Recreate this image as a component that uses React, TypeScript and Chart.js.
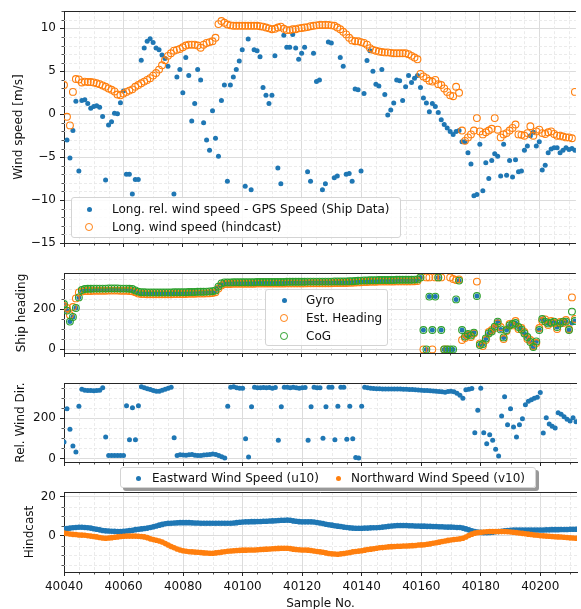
import React, { useEffect, useRef } from "react";
import { Chart, registerables } from "chart.js";

Chart.register(...registerables);

const FONT_FAMILY = "'DejaVu Sans', 'Liberation Sans', sans-serif";
const TEXT_COLOR = "#111111";
const AXIS_COLOR = "#262626";
const MAJOR_GRID = "#dcdcdc";
const MINOR_GRID = "#e6e6e6";
const BLUE = "#1f77b4";
const ORANGE = "#ff7f0e";
const GREEN = "#2ca02c";

const SAMPLE_START = 40040;
const X_MIN = 40040;
const X_MAX = 40212.33;
const X_TICKS = [40040, 40060, 40080, 40100, 40120, 40140, 40160, 40180, 40200];
const X_MINOR_STEP = 5;

// ---- Panel 1: longitudinal wind speed [m/s], samples 40040..40212 ----
const LONG_REL_WIND = [
  null, -3.0, -5.1, -1.9, 1.5, -6.6, 1.6, 1.7, 1.25, 0.7,
  0.9, 1.0, 0.8, -0.27, -7.65, -1.25, -0.87, 0.1, 0.05, 1.33,
  2.7, -7.0, -7.0, -9.3, -7.6, -7.6, 6.3, 7.7, 8.5, 8.8,
  8.35, 7.7, 7.5, 6.9, 6.5, 5.6, null, -9.3, 4.35, 5.2,
  2.5, 6.6, 4.5, -0.8, 1.25, 5.2, 4.0, -1.0, -3.0, -4.2,
  0.4, -2.8, -4.9, 1.6, 3.4, -7.8, 3.4, 4.35, 5.2, 6.2,
  7.5, -8.4, 8.75, -8.8, 7.5, 7.4, 6.7, 3.1, 2.2, 1.25,
  2.2, 6.8, -6.25, -8.1, 9.2, 7.8, 7.8, 9.3, 7.7, 6.4,
  7.1, 7.8, -6.7, -7.8, 7.1, 3.8, 4.0, -8.8, -8.1, 8.4,
  8.3, -7.4, -7.2, 6.6, 5.6, -7.0, -6.9, -7.8, 2.95, 2.85,
  -6.6, 2.4, 6.25, 7.4, 5.0, 3.5, 3.3, 5.2, 2.3, -0.1,
  0.5, 1.3, 4.0, 3.9, 1.6, 3.2, 4.5, 3.7, 4.2, 4.5,
  3.1, 1.9, 1.3, 0.3, 1.25, 0.9, 0.2, -0.65, -1.2, -1.6,
  -2.0, -2.35, -2.0, -1.9, -3.2, -3.2, -4.5, -5.8, -9.5, -9.35,
  -3.5, -8.9, -5.65, -7.5, -5.4, -4.6, -4.9, -7.2, -3.5, -7.1,
  -5.4, -7.3, -5.3, -6.7, -6.6, -4.2, -3.7, -2.5, -2.1, -3.7,
  -3.2, -6.5, -5.95, -4.5, -4.05, -3.9, -3.9, -4.5, -4.2, -3.9,
  -4.1, -4.0, -4.2,
];
const LONG_HINDCAST_WIND = [
  3.4, -0.3, -1.3, 2.6, 4.1, 4.05, 3.7, 3.8, 3.75, 3.75,
  3.7, 3.6, 3.5, 3.35, 3.2, 3.0, 2.85, 2.65, 2.3, 2.2,
  2.4, 2.6, 2.75, 2.9, 3.2, 3.4, 3.6, 3.8, 4.0, 4.2,
  4.5, 4.8, 5.2, 5.7, 6.3, 6.8, 7.1, 7.4, 7.5, 7.6,
  7.8, 8.0, 8.1, 8.1, 8.1, 8.0, 7.75, 8.1, 8.3, 8.4,
  8.5, 8.9, 10.5, 10.85, 10.65, 10.45, 10.35, 10.3, 10.3, 10.3,
  10.3, 10.3, 10.3, 10.3, 10.3, 10.3, 10.25, 10.2, 10.1, 10.0,
  9.9, 9.95, 10.1, 10.2, 9.95, 9.8, 9.8, 9.9, 9.9, 10.0,
  10.05, 10.1, 10.15, 10.25, 10.3, 10.35, 10.4, 10.4, 10.4, 10.4,
  10.35, 10.3, 10.1, 9.9, 9.6, 9.3, 8.9, 8.6, 8.5, 8.5,
  8.4, 8.3, 8.1, 7.7, 7.5, 7.4, 7.3, 7.25, 7.2, 7.2,
  7.15, 7.1, 7.1, 7.1, 7.1, 7.1, 7.0, 6.8, 6.6, 6.4,
  4.7, 4.4, 4.2, 3.9, 3.8, 4.0, 3.5, 3.4, 3.0, 2.6,
  2.2, 2.1, 3.2, 2.5, -1.9, -3.1, -2.7, -2.35, -1.9, -0.45,
  -2.0, -2.35, -2.1, -1.9, -1.7, -0.45, -1.8, -2.7, -2.35, -2.2,
  -1.9, -1.6, -1.2, -2.35, -2.4, -2.5, -2.2, -1.4, -2.5, -2.0,
  -1.8, -2.2, -2.3, -2.1, -2.0, -2.3, -2.5, -2.5, -2.6, -2.7,
  -2.7, -2.8, 2.6,
];

// ---- Panel 2: ship heading [deg] ----
const GYRO = [
  222, 192, 137, 160, 205, 258, 292, 296, 297, 297,
  298, 298, 298, 298, 298, 299, 299, 299, 299, 298,
  298, 298, 297, 296, 290, 284, 281, 281, 280, 280,
  280, 280, 280, 280, 280, 280, 280, 281, 281, 281,
  281, 281, 282, 282, 282, 283, 283, 283, 284, 285,
  286, 290, 310, 325, 330, 330, 330, 331, 331, 331,
  331, 331, 331, 331, 331, 332, 332, 332, 332, 332,
  332, 332, 332, 332, 332, 333, 333, 333, 333, 333,
  333, 333, 334, 334, 334, 334, 334, 334, 334, 334,
  334, 335, 335, 335, 335, 335, 336, 336, 337, 338,
  339, 340, 340, 341, 341, 341, 342, 342, 342, 342,
  342, 342, 343, 343, 343, 343, 343, 343, 344, 345,
  358, 95, -2, 262, 95, 262, 358, 95, -2, -2,
  -2, -2, 248, 342, 95, 62, 75, 68, 82, 265,
  20, 25, 53, 78, 88, 112, 137, 98, 58, 95,
  118, 125, 130, 110, 97, 78, 60, 35, 10, 38,
  95, 150, 137, 128, 132, 137, 110, 128, 137, 137,
  95, 130, 140,
];
const EST_HEADING = [
  215, 205, 170, 210, 253, 283, 288, 290, 290, 290,
  291, 291, 291, 291, 291, 292, 292, 292, 292, 291,
  291, 291, 290, 289, 284, 277, 275, 275, 274, 274,
  274, 274, 274, 274, 274, 274, 274, 275, 275, 275,
  275, 275, 276, 276, 276, 277, 277, 277, 278, 279,
  280, 284, 302, 318, 325, 325, 325, 326, 326, 326,
  326, 326, 326, 326, 326, 327, 327, 327, 327, 327,
  327, 327, 327, 327, 327, 328, 328, 328, 328, 328,
  328, 328, 329, 329, 329, 329, 329, 329, 329, 329,
  329, 330, 330, 330, 330, 330, 331, 331, 332, 333,
  334, 335, 335, 336, 336, 336, 337, 337, 337, 337,
  337, 337, 338, 338, 338, 338, 338, 338, 339, 340,
  358, -2, 358, 358, -2, 358, 358, 358, -2, -2,
  358, 350, 345, 348, 45, 55, 70, 60, 78, 337,
  28, 15, 45, 85, 95, 105, 128, 110, 50, 90,
  125, 118, 140, 100, 105, 85, 50, 45, 15, 30,
  105, 140, 148, 120, 140, 130, 100, 135, 130, 145,
  100, 258, 150,
];
const COG = [
  225, 192, 137, 160, 205, 258, 295, 300, 301, 301,
  302, 302, 302, 302, 302, 303, 303, 303, 303, 302,
  302, 302, 301, 300, 293, 287, 284, 284, 283, 283,
  283, 283, 283, 283, 283, 283, 283, 284, 284, 284,
  284, 284, 285, 285, 285, 286, 286, 286, 287, 288,
  289, 293, 312, 328, 333, 333, 333, 334, 334, 334,
  334, 334, 334, 334, 334, 335, 335, 335, 335, 335,
  335, 335, 335, 335, 335, 336, 336, 336, 336, 336,
  336, 336, 337, 337, 337, 337, 337, 337, 337, 337,
  337, 338, 338, 338, 338, 338, 339, 339, 340, 341,
  342, 343, 343, 344, 344, 344, 345, 345, 345, 345,
  345, 345, 346, 346, 346, 346, 346, 346, 347, 348,
  358, 95, -2, 262, 95, 262, 358, 95, -2, -2,
  -2, -2, 248, 342, 95, 62, 75, 68, 82, 265,
  20, 25, 53, 78, 88, 112, 137, 98, 58, 95,
  118, 125, 130, 110, 97, 78, 60, 35, 10, 38,
  95, 150, 137, 128, 132, 137, 110, 128, 137, 137,
  95, 187, 140,
];

// ---- Panel 3: relative wind direction [deg] ----
const REL_WIND_DIR = [
  82, 248, 145, 62, 32, 260, 345, 340, 338, 338,
  337, 338, 340, 352, 107, 15, 15, 14, 15, 14,
  14, 262, 93, 253, 93, 262, 357, 352, 347, 343,
  338, 335, 335, 340, 345, 350, 355, 103, 15, 18,
  17, 16, 18, 20, 16, 14, 15, 17, 18, 20,
  22, 20, 15, 8, 2, 260, 355, 357, 352, 350,
  350, 98, 7, 257, 355, 352, 352, 353, 352, 353,
  350, 353, 90, 257, 355, 355, 352, 355, 352, 350,
  352, 353, 90, 257, 355, 352, 352, 100, 257, 355,
  355, 93, 260, 355, 355, 95, 260, 98, 5, 2,
  260, 355, 352, 350, 348, 347, 347, 346, 346, 346,
  346, 346, 346, 346, 345, 345, 344, 343, 342, 341,
  340, 339, 338, 337, 336, 335, 333, 332, 330, 333,
  335, 332, 325, 315, 300, 342, 345, 348, 128, 240,
  350, 128, 73, 118, 90, 45, 12, 212, 307, 168,
  248, 157, 107, 168, 198, 268, 285, 292, 300, 305,
  328, 127, 203, 172, 160, 152, 228, 220, 208, 195,
  187, 203, 183,
];

// ---- Panel 4: hindcast wind components [m/s] ----
const U10 = [
  3.6, 3.8, 4.0, 4.2, 4.3, 4.4, 4.4, 4.3, 4.2, 4.0,
  3.7, 3.4, 3.1, 2.8, 2.6, 2.5, 2.4, 2.3, 2.2, 2.2,
  2.3, 2.5, 2.7, 2.9, 3.2, 3.4, 3.6, 3.8, 4.0, 4.3,
  4.7, 5.1, 5.5, 5.9, 6.2, 6.4, 6.5, 6.6, 6.7, 6.8,
  6.8, 6.8, 6.8, 6.7, 6.6, 6.6, 6.5, 6.5, 6.5, 6.5,
  6.5, 6.5, 6.5, 6.5, 6.5, 6.5, 6.5, 6.6, 6.8, 7.0,
  7.1, 7.2, 7.2, 7.3, 7.3, 7.4, 7.4, 7.5, 7.5, 7.6,
  7.7, 7.8, 7.9, 8.0, 8.0, 8.1, 8.0, 7.7, 7.5, 7.3,
  7.2, 7.2, 7.2, 7.2, 7.1, 6.9, 6.6, 6.3, 6.0, 5.7,
  5.5, 5.2, 5.0, 4.8, 4.5, 4.3, 4.1, 4.0, 3.9, 3.9,
  3.9, 4.0, 4.0, 4.1, 4.2, 4.2, 4.3, 4.5, 4.7, 4.9,
  5.1, 5.2, 5.3, 5.3, 5.3, 5.3, 5.2, 5.2, 5.1, 5.1,
  5.0, 5.0, 4.9, 4.9, 4.8, 4.8, 4.7, 4.7, 4.6, 4.5,
  4.5, 4.4, 4.3, 4.3, 4.0, 3.6, 3.1, 2.6, 2.2, 2.0,
  1.8, 1.7, 1.7, 1.8, 1.9, 2.1, 2.2, 2.4, 2.6, 2.8,
  2.9, 3.0, 3.0, 3.0, 3.0, 3.0, 3.0, 3.0, 3.0, 3.0,
  3.0, 3.0, 3.1, 3.1, 3.2, 3.2, 3.2, 3.3, 3.3, 3.3,
  3.4, 3.4, 3.4,
];
const V10 = [
  1.4, 1.2, 1.0, 0.8, 0.7, 0.5, 0.4, 0.3, 0.1, -0.1,
  -0.3, -0.5, -0.8, -1.1, -1.2, -1.1, -0.9, -0.7, -0.5, -0.3,
  -0.2, -0.1, -0.1, -0.1, -0.1, -0.2, -0.3, -0.5, -0.9, -1.5,
  -1.9, -2.2, -2.6, -3.1, -3.9, -4.7, -5.4, -6.1, -6.7, -7.2,
  -7.6, -7.9, -8.1, -8.2, -8.3, -8.4, -8.5, -8.7, -8.8, -8.9,
  -8.9, -8.7, -8.5, -8.3, -8.1, -7.9, -7.7, -7.6, -7.5, -7.4,
  -7.3, -7.3, -7.2, -7.2, -7.2, -7.1, -7.0, -6.9, -6.8, -6.7,
  -6.6, -6.5, -6.4, -6.3, -6.3, -6.3, -6.5, -6.8, -7.0, -7.1,
  -7.2, -7.2, -7.3, -7.5, -7.7, -8.0, -8.2, -8.4, -8.7, -9.0,
  -9.2, -9.3, -9.4, -9.2, -9.0, -8.8, -8.5, -8.2, -8.0, -7.8,
  -7.6, -7.3, -7.0, -6.8, -6.6, -6.3, -6.1, -6.0, -5.8, -5.6,
  -5.5, -5.4, -5.3, -5.3, -5.2, -5.2, -5.1, -5.0, -4.9, -4.7,
  -4.6, -4.5, -4.3, -4.1, -3.8, -3.5, -3.2, -2.9, -2.6, -2.3,
  -2.1, -1.9, -1.7, -1.5, -1.2, -0.6, 0.2, 0.9, 1.4, 1.7,
  1.9, 2.0, 2.1, 2.2, 2.2, 2.2, 2.2, 2.2, 2.2, 2.1,
  2.0, 1.9, 1.7, 1.5, 1.3, 1.1, 0.9, 0.7, 0.5, 0.3,
  0.1, 0.0, -0.1, -0.2, -0.3, -0.4, -0.5, -0.6, -0.7, -0.8,
  -1.0, -1.1, -1.2,
];

// ---- axis ticks ----
const P1_Y_TICKS = [-15, -10, -5, 0, 5, 10];
const P2_Y_TICKS = [0, 200];
const P3_Y_TICKS = [0, 200];
const P4_Y_TICKS = [0, 20];

const toPoints = (vals: (number | null)[]) =>
  vals
    .map((v, i) => ({ x: SAMPLE_START + i, y: v }))
    .filter((p) => p.y !== null);

const minorValues = (min: number, max: number, step: number, majors: number[]) => {
  const out: number[] = [];
  for (let v = Math.ceil(min / step) * step; v <= max + 1e-9; v += step) {
    if (!majors.some((m) => Math.abs(m - v) < 1e-9)) out.push(v);
  }
  return out;
};

const fmt = (v: number) => (v < 0 ? "\u2212" + Math.abs(v) : String(v));

const axisDecor = {
  id: "axisDecor",
  beforeDatasetsDraw(chart: any, _args: any, opts: any) {
    const { ctx, chartArea: a, scales } = chart;
    const xs = scales.x;
    const ys = scales.y;
    ctx.save();
    ctx.lineWidth = 0.8;
    ctx.strokeStyle = MINOR_GRID;
    ctx.setLineDash([3, 2]);
    const xMinor = (opts.xMinor || []).map((v: number) => Math.round(xs.getPixelForValue(v)) + 0.5).filter((p: number) => p >= a.left && p <= a.right);
    const yMinor = (opts.yMinor || []).map((v: number) => Math.round(ys.getPixelForValue(v)) + 0.5).filter((p: number) => p >= a.top && p <= a.bottom);
    for (const px of xMinor) {
      ctx.beginPath();
      ctx.moveTo(px, a.top);
      ctx.lineTo(px, a.bottom);
      ctx.stroke();
    }
    for (const py of yMinor) {
      ctx.beginPath();
      ctx.moveTo(a.left, py);
      ctx.lineTo(a.right, py);
      ctx.stroke();
    }
    ctx.setLineDash([]);
    ctx.strokeStyle = AXIS_COLOR;
    ctx.lineWidth = 0.8;
    for (const px of xMinor) {
      ctx.beginPath();
      ctx.moveTo(px, a.bottom);
      ctx.lineTo(px, a.bottom + 2.5);
      ctx.stroke();
    }
    for (const py of yMinor) {
      ctx.beginPath();
      ctx.moveTo(a.left - 2.5, py);
      ctx.lineTo(a.left, py);
      ctx.stroke();
    }
    ctx.restore();
  },
  afterDatasetsDraw(chart: any) {
    const { ctx, chartArea: a } = chart;
    ctx.save();
    ctx.strokeStyle = AXIS_COLOR;
    ctx.lineWidth = 1;
    const y = Math.round(a.top) + 0.5;
    ctx.beginPath();
    ctx.moveTo(a.left, y);
    ctx.lineTo(a.right, y);
    ctx.stroke();
    ctx.restore();
  },
};

const dots = (label: string, vals: (number | null)[], color: string, order: number, r = 2.5) => ({
  label,
  data: toPoints(vals),
  pointRadius: r,
  pointBackgroundColor: color,
  pointBorderColor: color,
  pointBorderWidth: 0,
  order,
});
const rings = (label: string, vals: (number | null)[], color: string, order: number) => ({
  label,
  data: toPoints(vals),
  pointRadius: 3.4,
  pointBackgroundColor: "rgba(0,0,0,0)",
  pointBorderColor: color,
  pointBorderWidth: 1.1,
  order,
});

type PanelDef = {
  canvasTop: number;
  plotTop: number;
  plotBottom: number;
  canvasBottom: number;
  xAxisH: number;
  showX: boolean;
  yMin: number;
  yMax: number;
  yTicks: number[];
  yMinorStep: number;
  yTitle: string;
  yTitlePad: number;
  datasets: any[];
};

const WIDTH = 581;

const PANELS: PanelDef[] = [
  {
    canvasTop: 0, plotTop: 5, plotBottom: 243, canvasBottom: 259, xAxisH: 6, showX: false,
    yMin: -15, yMax: 12, yTicks: P1_Y_TICKS, yMinorStep: 1,
    yTitle: "Wind speed [m/s]", yTitlePad: 11.5,
    datasets: [
      dots("Long. rel. wind speed - GPS Speed (Ship Data)", LONG_REL_WIND, BLUE, 3),
      rings("Long. wind speed (hindcast)", LONG_HINDCAST_WIND, ORANGE, 2),
    ],
  },
  {
    canvasTop: 258, plotTop: 273, plotBottom: 353, canvasBottom: 369, xAxisH: 6, showX: false,
    yMin: -20, yMax: 380, yTicks: P2_Y_TICKS, yMinorStep: 50,
    yTitle: "Ship heading", yTitlePad: 14.5,
    datasets: [
      dots("Gyro", GYRO, BLUE, 3),
      rings("Est. Heading", EST_HEADING, ORANGE, 2),
      rings("CoG", COG, GREEN, 1),
    ],
  },
  {
    canvasTop: 368, plotTop: 383, plotBottom: 462, canvasBottom: 478, xAxisH: 6, showX: false,
    yMin: -18, yMax: 376, yTicks: P3_Y_TICKS, yMinorStep: 50,
    yTitle: "Rel. Wind Dir.", yTitlePad: 14,
    datasets: [dots("Rel. Wind Dir.", REL_WIND_DIR, BLUE, 1)],
  },
  {
    canvasTop: 477, plotTop: 492, plotBottom: 572, canvasBottom: 609, xAxisH: 37, showX: true,
    yMin: -18.5, yMax: 22.5, yTicks: P4_Y_TICKS, yMinorStep: 5,
    yTitle: "Hindcast", yTitlePad: 23,
    datasets: [
      dots("Eastward Wind Speed (u10)", U10, BLUE, 2, 2.8),
      dots("Northward Wind Speed (v10)", V10, ORANGE, 1, 2.8),
    ],
  },
];

function Panel({ def }: { def: PanelDef }) {
  const ref = useRef<HTMLCanvasElement>(null);
  const height = def.canvasBottom - def.canvasTop;
  useEffect(() => {
    const canvas = ref.current;
    if (!canvas) return;
    const font = { family: FONT_FAMILY, size: 12 };
    const chart = new Chart(canvas, {
      type: "scatter",
      data: { datasets: def.datasets },
      options: {
        responsive: false,
        animation: false,
        devicePixelRatio: 1,
        events: [],
        layout: {
          padding: {
            top: def.plotTop - def.canvasTop,
            bottom: def.canvasBottom - def.plotBottom - def.xAxisH,
            left: 0,
            right: 0,
          },
        },
        plugins: {
          legend: { display: false },
          tooltip: { enabled: false },
          axisDecor: {
            xMinor: minorValues(X_MIN, X_MAX, X_MINOR_STEP, X_TICKS),
            yMinor: minorValues(def.yMin, def.yMax, def.yMinorStep, def.yTicks),
          },
        } as any,
        scales: {
          x: {
            type: "linear",
            min: X_MIN,
            max: X_MAX,
            afterBuildTicks: (s: any) => {
              s.ticks = X_TICKS.map((v) => ({ value: v }));
            },
            afterFit: (s: any) => {
              s.height = def.xAxisH;
            },
            grid: { color: MAJOR_GRID, lineWidth: 1, tickColor: AXIS_COLOR, tickLength: 4, tickWidth: 1, drawTicks: true },
            border: { display: true, color: AXIS_COLOR, width: 1 },
            ticks: {
              display: def.showX,
              font,
              color: TEXT_COLOR,
              padding: 4,
              maxRotation: 0,
              autoSkip: false,
              callback: (v: any) => String(v),
            },
            title: { display: def.showX, text: "Sample No.", font, color: TEXT_COLOR, padding: { top: 0, bottom: -2 } },
          },
          y: {
            type: "linear",
            min: def.yMin,
            max: def.yMax,
            afterBuildTicks: (s: any) => {
              s.ticks = def.yTicks.map((v) => ({ value: v }));
            },
            afterFit: (s: any) => {
              s.width = 64;
            },
            grid: { color: MAJOR_GRID, lineWidth: 1, tickColor: AXIS_COLOR, tickLength: 4, tickWidth: 1, drawTicks: true },
            border: { display: true, color: AXIS_COLOR, width: 1 },
            ticks: { font, color: TEXT_COLOR, padding: 4, callback: (v: any) => fmt(Number(v)) },
            title: { display: true, text: def.yTitle, font, color: TEXT_COLOR, padding: { top: def.yTitlePad, bottom: 0 } },
          },
        },
      },
      plugins: [axisDecor],
    } as any);
    return () => chart.destroy();
  }, [def]);
  return (
    <canvas
      ref={ref}
      width={WIDTH}
      height={height}
      style={{ position: "absolute", left: 0, top: def.canvasTop, width: WIDTH, height }}
    />
  );
}

type LegendItem = { label: string; color: string; kind: "dot" | "ring"; mx: number; tx: number; cy: number };

function Marker({ item }: { item: LegendItem }) {
  const size = item.kind === "dot" ? 5 : 7.8;
  return (
    <span
      style={{
        position: "absolute",
        left: item.mx - size / 2,
        top: item.cy - size / 2,
        width: size,
        height: size,
        boxSizing: "border-box",
        borderRadius: "50%",
        background: item.kind === "dot" ? item.color : "transparent",
        border: item.kind === "ring" ? `1.2px solid ${item.color}` : "none",
      }}
    />
  );
}

function Legend({ left, top, width, height, items, shadow }: { left: number; top: number; width: number; height: number; items: LegendItem[]; shadow?: boolean }) {
  return (
    <div
      style={{
        position: "absolute",
        left,
        top,
        width,
        height,
        boxSizing: "border-box",
        border: "1px solid #d4d4d4",
        borderRadius: 3,
        background: "rgba(255,255,255,0.85)",
        boxShadow: shadow ? "3px 3px 0 rgba(0,0,0,0.4)" : "none",
        zIndex: 10,
        fontFamily: FONT_FAMILY,
        fontSize: 12,
        color: TEXT_COLOR,
      }}
    >
      {items.map((it) => (
        <React.Fragment key={it.label}>
          <Marker item={it} />
          <span style={{ position: "absolute", left: it.tx, top: it.cy - 7, lineHeight: "14px", whiteSpace: "nowrap" }}>{it.label}</span>
        </React.Fragment>
      ))}
    </div>
  );
}

export default function App() {
  return (
    <div style={{ position: "absolute", left: 0, top: 0, width: WIDTH, height: 609, background: "#ffffff", overflow: "hidden" }}>
      {PANELS.map((p, i) => (
        <Panel key={i} def={p} />
      ))}
      <Legend
        left={71}
        top={197}
        width={330}
        height={41}
        items={[
          { label: "Long. rel. wind speed - GPS Speed (Ship Data)", color: BLUE, kind: "dot", mx: 17, tx: 40, cy: 11 },
          { label: "Long. wind speed (hindcast)", color: ORANGE, kind: "ring", mx: 17, tx: 40, cy: 29 },
        ]}
      />
      <Legend
        left={265}
        top={289}
        width={123}
        height={57}
        items={[
          { label: "Gyro", color: BLUE, kind: "dot", mx: 18, tx: 40, cy: 10 },
          { label: "Est. Heading", color: ORANGE, kind: "ring", mx: 18, tx: 40, cy: 28 },
          { label: "CoG", color: GREEN, kind: "ring", mx: 18, tx: 40, cy: 46 },
        ]}
      />
      <Legend
        left={120}
        top={467}
        width={416}
        height={21}
        shadow
        items={[
          { label: "Eastward Wind Speed (u10)", color: BLUE, kind: "dot", mx: 17, tx: 31, cy: 10 },
          { label: "Northward Wind Speed (v10)", color: ORANGE, kind: "dot", mx: 217, tx: 230, cy: 10 },
        ]}
      />
    </div>
  );
}
